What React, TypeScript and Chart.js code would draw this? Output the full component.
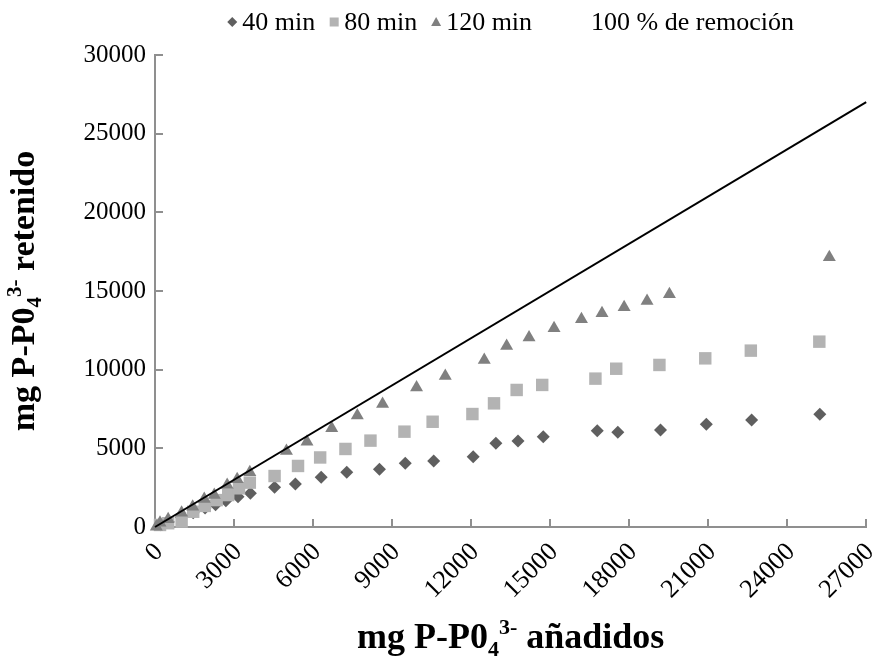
import { useEffect, useRef } from 'react';
import { Chart, registerables } from 'chart.js';

Chart.register(...registerables);

const FONT = "'Liberation Serif', 'Times New Roman', serif";

// Axis ranges and tick labels
const xTickLabels = ['0', '3000', '6000', '9000', '12000', '15000', '18000', '21000', '24000', '27000'];
const yTickLabels = ['0', '5000', '10000', '15000', '20000', '25000', '30000'];

// 40 min contact time
const added40 = [200, 500, 1000, 1450, 1900, 2300, 2690, 3150, 3620, 4540, 5330, 6310, 7280, 8520, 9500, 10580, 12080, 12940, 13780, 14740, 16790, 17570, 19190, 20930, 22650, 25240];
const retained40 = [150, 350, 620, 900, 1200, 1420, 1670, 1930, 2140, 2520, 2730, 3160, 3480, 3670, 4050, 4200, 4470, 5320, 5470, 5740, 6120, 6020, 6170, 6530, 6800, 7170];

// 80 min contact time
const added80 = [190, 500, 1010, 1450, 1890, 2340, 2780, 3190, 3600, 4540, 5430, 6270, 7230, 8180, 9470, 10540, 12050, 12870, 13730, 14700, 16720, 17510, 19150, 20890, 22620, 25220];
const retained80 = [130, 240, 340, 970, 1340, 1710, 2030, 2460, 2820, 3240, 3880, 4420, 4960, 5490, 6060, 6690, 7180, 7860, 8710, 9030, 9430, 10060, 10300, 10720, 11210, 11780];

// 120 min contact time
const added120 = [50, 190, 500, 1010, 1430, 1870, 2250, 2740, 3120, 3600, 4990, 5770, 6710, 7680, 8640, 9930, 11020, 12500, 13350, 14200, 15150, 16190, 16970, 17810, 18680, 19530, 25600];
const retained120 = [20, 270, 490, 910, 1290, 1780, 2030, 2670, 3030, 3480, 4830, 5420, 6270, 7080, 7820, 8860, 9600, 10620, 11510, 12040, 12630, 13210, 13590, 13970, 14370, 14790, 17150];

// 100 % removal reference (retained = added)
const removalX = [0, 27000];
const removalY = [0, 27000];

const seriesLabels = ['40 min', '80 min', '120 min', '100 % de remoción'];
const seriesColors = ['#5f5f5f', '#b3b3b3', '#808080', '#000000'];

const AXIS_COLOR = '#8f8f8f';
const LEGEND_SIZE = 26;
const X_TITLE_SIZE = 36;
const Y_TITLE_SIZE = 34;

const toPoints = (xs: number[], ys: number[]) => xs.map((x, i) => ({ x, y: ys[i] }));

type Part = [string, 'n' | 'sub' | 'sup'];

function drawRich(ctx: CanvasRenderingContext2D, parts: Part[], cx: number, cy: number, size: number) {
  const small = Math.round(size * 0.62);
  const segs = parts.map(([t, k]) => {
    const s = k === 'n' ? size : small;
    ctx.font = `bold ${s}px ${FONT}`;
    return { t, k, s, w: ctx.measureText(t).width };
  });
  const total = segs.reduce((a, s) => a + s.w, 0);
  let x = cx - total / 2;
  ctx.textAlign = 'left';
  ctx.textBaseline = 'alphabetic';
  ctx.fillStyle = '#000';
  for (const s of segs) {
    ctx.font = `bold ${s.s}px ${FONT}`;
    const dy = s.k === 'sub' ? size * 0.22 : s.k === 'sup' ? -size * 0.38 : 0;
    ctx.fillText(s.t, x, cy + dy);
    x += s.w;
  }
}

const xTitle: Part[] = [['mg P-P0', 'n'], ['4', 'sub'], ['3-', 'sup'], [' añadidos', 'n']];
const yTitle: Part[] = [['mg P-P0', 'n'], ['4', 'sub'], ['3-', 'sup'], [' retenido', 'n']];

function drawMarker(ctx: CanvasRenderingContext2D, style: string, x: number, y: number, color: string) {
  ctx.fillStyle = color;
  ctx.beginPath();
  if (style === 'rectRot') {
    ctx.moveTo(x, y - 5);
    ctx.lineTo(x + 5, y);
    ctx.lineTo(x, y + 5);
    ctx.lineTo(x - 5, y);
    ctx.closePath();
    ctx.fill();
  } else if (style === 'rect') {
    ctx.rect(x - 4.5, y - 4.5, 9, 9);
    ctx.fill();
  } else if (style === 'triangle') {
    ctx.moveTo(x, y - 5);
    ctx.lineTo(x + 5, y + 4);
    ctx.lineTo(x - 5, y + 4);
    ctx.closePath();
    ctx.fill();
  }
}

const decorations = {
  id: 'decorations',
  beforeDatasetsDraw(chart: any) {
    const { ctx, chartArea, scales } = chart;
    const xs = scales.x;
    const ys = scales.y;
    ctx.save();
    ctx.strokeStyle = AXIS_COLOR;
    ctx.lineWidth = 2;
    // tick marks pointing into the plot
    xs.ticks.forEach((t: any) => {
      if (t.value === 0) return;
      const px = Math.round(xs.getPixelForValue(t.value));
      ctx.beginPath();
      ctx.moveTo(px, chartArea.bottom);
      ctx.lineTo(px, chartArea.bottom - 8);
      ctx.stroke();
    });
    ys.ticks.forEach((t: any) => {
      if (t.value === 0) return;
      const py = Math.round(ys.getPixelForValue(t.value));
      ctx.beginPath();
      ctx.moveTo(chartArea.left, py);
      ctx.lineTo(chartArea.left + 8, py);
      ctx.stroke();
    });
    ctx.restore();
  },
  afterDraw(chart: any) {
    const { ctx, chartArea } = chart;
    ctx.save();
    // axis titles
    const cxMid = (chartArea.left + chartArea.right) / 2;
    const cyMid = (chartArea.top + chartArea.bottom) / 2;
    drawRich(ctx, xTitle, cxMid, 648, X_TITLE_SIZE);
    ctx.save();
    ctx.translate(34, cyMid);
    ctx.rotate(-Math.PI / 2);
    drawRich(ctx, yTitle, 0, 0, Y_TITLE_SIZE);
    ctx.restore();

    // legend
    const styles = ['rectRot', 'rect', 'triangle', 'line'];
    ctx.font = `${LEGEND_SIZE}px ${FONT}`;
    const markerW = [10, 10, 10, 40];
    const gap = 5;
    const itemGap = 14;
    const widths = seriesLabels.map((l) => ctx.measureText(l).width);
    const total = widths.reduce((a, w, i) => a + markerW[i] + gap + w, 0) + itemGap * (seriesLabels.length - 1);
    let x = cxMid - total / 2;
    const ly = 22;
    ctx.textAlign = 'left';
    ctx.textBaseline = 'middle';
    seriesLabels.forEach((label, i) => {
      if (styles[i] !== 'line') drawMarker(ctx, styles[i], x + markerW[i] / 2, ly, seriesColors[i]);
      ctx.fillStyle = '#000';
      ctx.font = `${LEGEND_SIZE}px ${FONT}`;
      ctx.fillText(label, x + markerW[i] + gap, ly + 1);
      x += markerW[i] + gap + widths[i] + itemGap;
    });
    ctx.restore();
  },
};

export default function App() {
  const canvasRef = useRef<HTMLCanvasElement | null>(null);

  useEffect(() => {
    document.body.style.margin = '0';
    const canvas = canvasRef.current;
    if (!canvas) return;
    const chart = new Chart(canvas, {
      type: 'scatter',
      data: {
        datasets: [
          {
            label: seriesLabels[0],
            data: toPoints(added40, retained40),
            pointStyle: 'rectRot',
            pointRadius: 6.5,
            pointHoverRadius: 6.5,
            backgroundColor: seriesColors[0],
            borderColor: seriesColors[0],
            borderWidth: 0,
            clip: false,
            order: 3,
          },
          {
            label: seriesLabels[1],
            data: toPoints(added80, retained80),
            pointStyle: 'rect',
            pointRadius: 8.8,
            pointHoverRadius: 8.8,
            backgroundColor: seriesColors[1],
            borderColor: seriesColors[1],
            borderWidth: 0,
            clip: false,
            order: 2,
          },
          {
            label: seriesLabels[2],
            data: toPoints(added120, retained120),
            pointStyle: 'triangle',
            pointRadius: 7.5,
            pointHoverRadius: 7.5,
            backgroundColor: seriesColors[2],
            borderColor: seriesColors[2],
            borderWidth: 0,
            clip: false,
            order: 1,
          },
          {
            label: seriesLabels[3],
            data: toPoints(removalX, removalY),
            showLine: true,
            borderColor: seriesColors[3],
            backgroundColor: seriesColors[3],
            borderWidth: 2,
            pointRadius: 0,
            pointHoverRadius: 0,
            clip: false,
            order: 0,
          } as any,
        ],
      },
      options: {
        responsive: false,
        animation: false,
        events: [],
        layout: { padding: { top: 55, right: 7, left: 0, bottom: 0 } },
        plugins: {
          legend: { display: false },
          tooltip: { enabled: false },
          title: { display: false },
        },
        scales: {
          x: {
            type: 'linear',
            min: 0,
            max: 27000,
            grid: { display: false, drawTicks: false },
            border: { display: true, color: AXIS_COLOR, width: 2 },
            ticks: {
              stepSize: 3000,
              minRotation: 45,
              maxRotation: 45,
              padding: 10,
              labelOffset: 4,
              color: '#000',
              font: { family: FONT, size: 26 },
              callback: (_v: any, i: number) => xTickLabels[i],
            },
            afterFit: (s: any) => {
              s.height = 133;
              s.paddingLeft = 0;
              s.paddingRight = 0;
            },
          },
          y: {
            type: 'linear',
            min: 0,
            max: 30000,
            grid: { display: false, drawTicks: false },
            border: { display: true, color: AXIS_COLOR, width: 2 },
            ticks: {
              stepSize: 5000,
              padding: 9,
              color: '#000',
              font: { family: FONT, size: 25 },
              callback: (_v: any, i: number) => yTickLabels[i],
            },
            afterFit: (s: any) => {
              s.width = 155;
              s.paddingTop = 0;
              s.paddingBottom = 0;
            },
          },
        },
      },
      plugins: [decorations],
    });
    return () => chart.destroy();
  }, []);

  return <canvas ref={canvasRef} width={875} height={660} style={{ display: 'block' }} />;
}
